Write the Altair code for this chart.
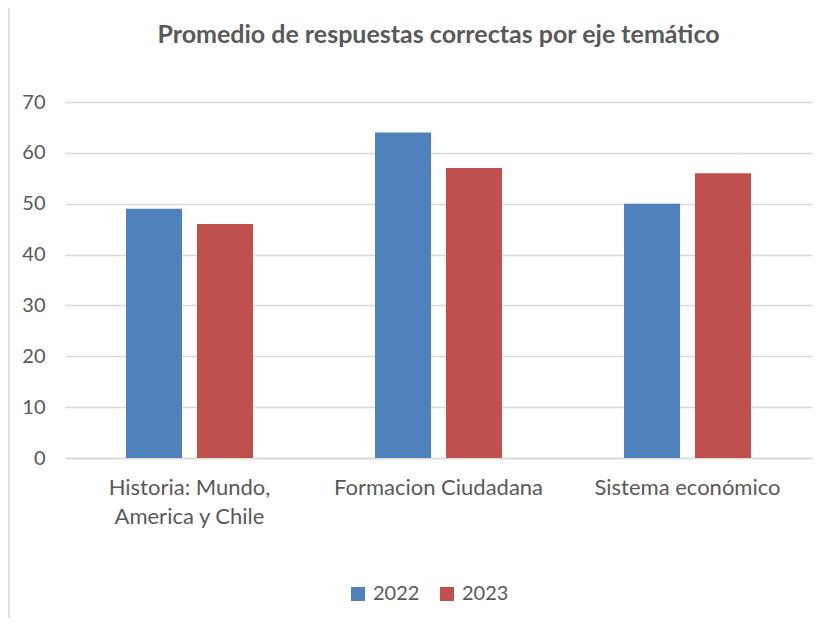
import altair as alt
import pandas as pd

categories = ["Historia: Mundo,\nAmerica y Chile", "Formacion Ciudadana", "Sistema económico"]
years = ["2022", "2023"]
values_2022 = [49, 64, 50]
values_2023 = [46, 57, 56]
colors = ["#4F81BD", "#C0504D"]

rows = []
for c, v22, v23 in zip(categories, values_2022, values_2023):
    rows.append({"cat": c, "year": "2022", "value": v22})
    rows.append({"cat": c, "year": "2023", "value": v23})
df = pd.DataFrame(rows)

FONT = "Lato"

bars = alt.Chart(df).mark_bar().encode(
    x=alt.X("cat:N", sort=categories, title=None,
            scale=alt.Scale(paddingInner=0.49, paddingOuter=0.245),
            axis=alt.Axis(labelAngle=0, labelExpr="split(datum.label, '\\n')",
                          ticks=False, domain=True, domainColor="#D9D9D9", domainWidth=1.5,
                          labelFontSize=22, labelColor="#595959", labelFont=FONT,
                          labelPadding=19, labelLineHeight=29, grid=False, labelLimit=0)),
    xOffset=alt.XOffset("year:N", sort=years,
                        scale=alt.Scale(paddingInner=0.21, paddingOuter=0)),
    y=alt.Y("value:Q", title=None,
            scale=alt.Scale(domain=[0, 70]),
            axis=alt.Axis(values=[0, 10, 20, 30, 40, 50, 60, 70], ticks=False, domain=False,
                          gridColor="#D9D9D9", gridWidth=1.5,
                          labelFontSize=20, labelColor="#595959", labelFont=FONT,
                          labelPadding=20)),
    color=alt.Color("year:N", sort=years, title=None,
                    scale=alt.Scale(domain=years, range=colors),
                    legend=alt.Legend(orient="none", direction="horizontal",
                                      legendX=283, legendY=482,
                                      symbolType="square", symbolSize=196,
                                      symbolStrokeWidth=0,
                                      labelFontSize=20, labelColor="#595959", labelFont=FONT,
                                      columnPadding=17, labelOffset=5)),
)

frame = alt.Chart(pd.DataFrame({"a": [0]})).mark_rule(color="#D9D9D9", strokeWidth=1.5).encode(
    x=alt.value(-56), y=alt.value(-94), y2=alt.value(620)
)

chart = alt.layer(frame, bars).properties(
    width=747,
    height=356,
    title=alt.TitleParams("Promedio de respuestas correctas por eje temático",
                          font=FONT, fontSize=25, fontWeight="bold", color="#595959",
                          anchor="middle", offset=-41),
    autosize=alt.AutoSizeParams(type="none"),
    padding={"left": 57, "top": 94, "right": 8, "bottom": 160},
).configure_view(stroke=None)

chart.save("out.html", embed_options={"renderer": "svg", "actions": False})
